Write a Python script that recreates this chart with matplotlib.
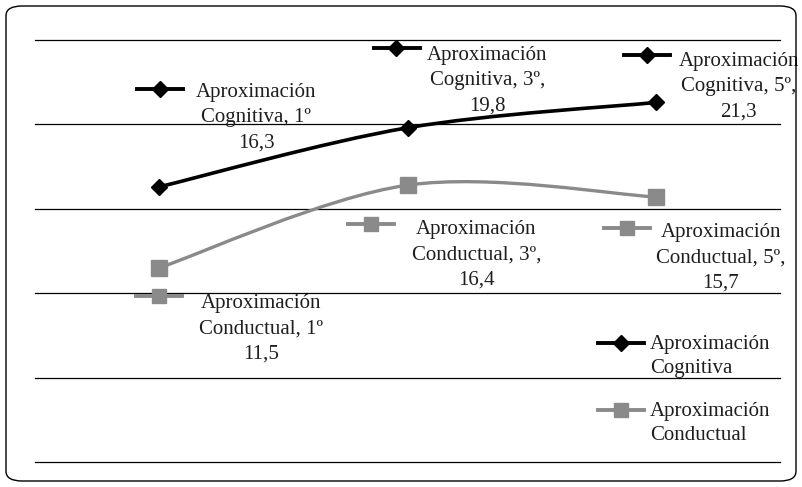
import matplotlib.pyplot as plt
import numpy as np
from matplotlib.path import Path
from matplotlib.patches import PathPatch, FancyBboxPatch

plt.rcParams['font.family'] = ['Liberation Serif', 'DejaVu Serif']

# Data
courses = ['1º', '3º', '5º']
cognitiva = [16.3, 19.8, 21.3]
conductual = [11.5, 16.4, 15.7]
series_names = ['Aproximación\nCognitiva', 'Aproximación\nConductual']
y_ticks = [0, 5, 10, 15, 20, 25]

COG_COLOR = 'black'
CON_COLOR = '#8a8a8a'
TXT_COLOR = '#1e1e1e'


def smooth_path(xs, ys):
    # Catmull-Rom style bezier through the points (like Excel "smoothed line")
    pts = np.column_stack([xs, ys])
    n = len(pts)
    verts = [pts[0]]
    codes = [Path.MOVETO]
    for i in range(n - 1):
        p0 = pts[i - 1] if i > 0 else pts[i]
        p1 = pts[i]
        p2 = pts[i + 1]
        p3 = pts[i + 2] if i + 2 < n else pts[i + 1]
        c1 = p1 + (p2 - p0) / 6.0
        c2 = p2 - (p3 - p1) / 6.0
        verts += [c1, c2, p2]
        codes += [Path.CURVE4] * 3
    return Path(verts, codes)


W, H = 802, 487
fig = plt.figure(figsize=(W / 100, H / 100), dpi=100)
ax = fig.add_axes([35 / W, 1 - 462 / H, 745 / W, 422 / H])
ax.set_xlim(0, 3)
ax.set_ylim(0, 25)
ax.set_axis_off()

for t in y_ticks:
    ax.axhline(t, color='black', lw=0.9, zorder=1, clip_on=False)

x = np.arange(len(courses)) + 0.5

ax.add_patch(PathPatch(smooth_path(x, cognitiva), fill=False, edgecolor=COG_COLOR,
                       lw=2.6, zorder=3, capstyle='round'))
ax.add_patch(PathPatch(smooth_path(x, conductual), fill=False, edgecolor=CON_COLOR,
                       lw=2.4, zorder=3, capstyle='round'))
ax.plot(x, cognitiva, linestyle='none', marker='D', color=COG_COLOR, ms=8.5, zorder=4)
ax.plot(x, conductual, linestyle='none', marker='s', color=CON_COLOR, ms=11, zorder=4)

# data labels with legend keys: (key offset px, text center offset px, text)
cog_labels = [
    ((1, 98), (97, 69), 'Aproximación\nCognitiva, 1º\n16,3'),
    ((-11, 80), (80, 47), 'Aproximación\nCognitiva, 3º,\n19,8'),
    ((-9, 47), (83, 16), 'Aproximación\nCognitiva, 5º,\n21,3'),
]
con_labels = [
    ((0, -28), (102, -61), 'Aproximación\nConductual, 1º\n11,5'),
    ((-36, -39), (69, -70), 'Aproximación\nConductual, 3º,\n16,4'),
    ((-29, -31), (65, -61), 'Aproximación\nConductual, 5º,\n15,7'),
]

fs = 15
px = 72 / 100.0


def pix_to_data(xp, yp):
    return ax.transData.inverted().transform((xp, H - yp))


def draw_key(xc, yc, color, marker, ms, lw):
    # small line+marker key, centre given in image pixels (from top)
    xa, ya = pix_to_data(xc - 23, yc)
    xb, _ = pix_to_data(xc + 23, yc)
    xm, _ = pix_to_data(xc, yc)
    ax.plot([xa, xb], [ya, ya], color=color, lw=lw, zorder=5, clip_on=False)
    ax.plot([xm], [ya], marker=marker, color=color, ms=ms, zorder=6, clip_on=False)


def add_labels(vals, specs, color, marker, ms, lw):
    for xi, yi, (k, t, s) in zip(x, vals, specs):
        xp, yp = ax.transData.transform((xi, yi))
        draw_key(xp + k[0], H - yp - k[1], color, marker, ms, lw)
        ax.annotate(s, (xi, yi), xytext=(t[0] * px, t[1] * px), textcoords='offset points',
                    ha='center', va='center', fontsize=fs, linespacing=1.45,
                    color=TXT_COLOR, zorder=6, annotation_clip=False)


add_labels(cognitiva, cog_labels, COG_COLOR, 'D', 8, 2.8)
add_labels(conductual, con_labels, CON_COLOR, 's', 10, 2.8)

# legend (key aligned with first text line, like the original)
leg_rows = [(343, COG_COLOR, 'D', 8), (410, CON_COLOR, 's', 10)]
for (yrow, color, marker, ms), name in zip(leg_rows, series_names):
    draw_key(621, yrow, color, marker, ms, 2.8)
    xt, yt = pix_to_data(650, yrow - 8)
    ax.text(xt, yt, name, ha='left', va='top', fontsize=fs, linespacing=1.38,
            color=TXT_COLOR, zorder=6, clip_on=False)

# rounded outer frame
frame = FancyBboxPatch((6 / W, 6 / H), 790 / W, 475 / H,
                       boxstyle='round,pad=0,rounding_size=0.02',
                       transform=fig.transFigure, fill=False, edgecolor='black', lw=1.0)
fig.patches.append(frame)

fig.savefig('out.png', dpi=100)
